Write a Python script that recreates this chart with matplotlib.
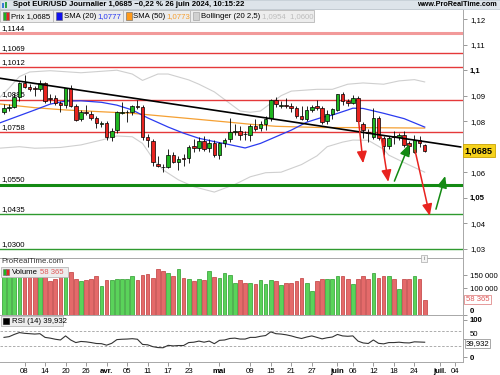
import numpy as np
import pandas as pd
import matplotlib
matplotlib.use("Agg")
import matplotlib.pyplot as plt
from matplotlib.patches import Rectangle
from matplotlib.transforms import blended_transform_factory

plt.rcParams["font.family"] = ["Liberation Sans", "DejaVu Sans"]
FS = 5.6

# ---- colours ----
C_UP = "#1fb51f"
C_DN = "#e8231f"
V_UP = "#5ad35a"
V_UP_EDGE = "#2c9c2c"
V_DN = "#e46a6a"
V_DN_EDGE = "#bf3a3a"
C_SMA20 = "#2b3bf0"
C_SMA50 = "#f5a033"
C_BOLL = "#cfcfcf"
C_LEVEL_RED = "#e5393a"
C_LEVEL_GREEN = "#2f9a2f"

# ---- daily candles, 4 March -> 26 June 2024 ----
dates = pd.bdate_range("2024-03-04", "2024-06-26")
opens = [1.0836, 1.0852, 1.0855, 1.0896, 1.0950, 1.0936, 1.0929, 1.0926, 1.0950, 1.0892,
         1.0890, 1.0870, 1.0862, 1.0930, 1.0861, 1.0809, 1.0835, 1.0827, 1.0811, 1.0790,
         1.0792, 1.0737, 1.0765, 1.0834, 1.0835, 1.0835, 1.0860, 1.0855, 1.0737, 1.0722,
         1.0632, 1.0622, 1.0620, 1.0667, 1.0639, 1.0657, 1.0655, 1.0703, 1.0696, 1.0724,
         1.0696, 1.0715, 1.0667, 1.0713, 1.0729, 1.0757, 1.0763, 1.0750, 1.0746, 1.0781,
         1.0772, 1.0789, 1.0811, 1.0883, 1.0860, 1.0862, 1.0861, 1.0853, 1.0822, 1.0809,
         1.0844, 1.0861, 1.0851, 1.0801, 1.0828, 1.0844, 1.0905, 1.0880, 1.0873, 1.0890,
         1.0788, 1.0759, 1.0739, 1.0814, 1.0735, 1.0703, 1.0740, 1.0737, 1.0746, 1.0713,
         1.0680, 1.0726, 1.0707]
highs = [1.0866, 1.0868, 1.0912, 1.0955, 1.0980, 1.0945, 1.0937, 1.0963, 1.0955, 1.0905,
         1.0902, 1.0880, 1.0928, 1.0942, 1.0868, 1.0842, 1.0865, 1.0840, 1.0822, 1.0800,
         1.0800, 1.0775, 1.0840, 1.0876, 1.0845, 1.0865, 1.0885, 1.0865, 1.0750, 1.0730,
         1.0665, 1.0632, 1.0690, 1.0681, 1.0665, 1.0672, 1.0708, 1.0730, 1.0737, 1.0740,
         1.0730, 1.0725, 1.0720, 1.0735, 1.0812, 1.0790, 1.0780, 1.0760, 1.0790, 1.0810,
         1.0800, 1.0820, 1.0887, 1.0895, 1.0880, 1.0890, 1.0870, 1.0860, 1.0860, 1.0860,
         1.0865, 1.0885, 1.0860, 1.0845, 1.0850, 1.0908, 1.0915, 1.0888, 1.0902, 1.0900,
         1.0795, 1.0770, 1.0852, 1.0820, 1.0740, 1.0740, 1.0760, 1.0752, 1.0760, 1.0722,
         1.0745, 1.0740, 1.0712]
lows = [1.0830, 1.0840, 1.0850, 1.0880, 1.0930, 1.0917, 1.0900, 1.0920, 1.0870, 1.0870,
        1.0862, 1.0836, 1.0850, 1.0855, 1.0802, 1.0800, 1.0825, 1.0805, 1.0775, 1.0778,
        1.0725, 1.0724, 1.0755, 1.0830, 1.0795, 1.0825, 1.0846, 1.0726, 1.0697, 1.0623,
        1.0620, 1.0601, 1.0615, 1.0635, 1.0610, 1.0624, 1.0636, 1.0680, 1.0685, 1.0685,
        1.0680, 1.0660, 1.0650, 1.0700, 1.0718, 1.0745, 1.0725, 1.0725, 1.0723, 1.0760,
        1.0760, 1.0765, 1.0802, 1.0855, 1.0850, 1.0850, 1.0835, 1.0812, 1.0805, 1.0800,
        1.0835, 1.0845, 1.0790, 1.0788, 1.0810, 1.0840, 1.0862, 1.0860, 1.0866, 1.0795,
        1.0733, 1.0718, 1.0732, 1.0728, 1.0668, 1.0690, 1.0710, 1.0725, 1.0700, 1.0671,
        1.0676, 1.0700, 1.0681]
closes = [1.0852, 1.0857, 1.0896, 1.0948, 1.0936, 1.0927, 1.0926, 1.0950, 1.0881, 1.0886,
          1.0873, 1.0862, 1.0930, 1.0861, 1.0806, 1.0835, 1.0832, 1.0811, 1.0792, 1.0791,
          1.0737, 1.0761, 1.0835, 1.0837, 1.0837, 1.0860, 1.0856, 1.0739, 1.0726, 1.0639,
          1.0625, 1.0619, 1.0666, 1.0640, 1.0653, 1.0652, 1.0698, 1.0696, 1.0724, 1.0691,
          1.0713, 1.0667, 1.0714, 1.0726, 1.0759, 1.0763, 1.0746, 1.0749, 1.0781, 1.0769,
          1.0788, 1.0809, 1.0883, 1.0866, 1.0862, 1.0860, 1.0851, 1.0822, 1.0809, 1.0844,
          1.0857, 1.0851, 1.0798, 1.0827, 1.0848, 1.0905, 1.0880, 1.0873, 1.0890, 1.0801,
          1.0766, 1.0753, 1.0814, 1.0735, 1.0703, 1.0735, 1.0739, 1.0746, 1.0707, 1.0703,
          1.0726, 1.0713, 1.0685]
volumes = [150000, 148000, 158000, 165000, 160000, 152000, 150000, 158000, 165000, 128000,
           135000, 150000, 160000, 163000, 135000, 127000, 131000, 137000, 147000, 108000,
           131000, 131000, 135000, 135000, 135000, 146000, 131000, 150000, 154000, 141000,
           173000, 166000, 160000, 147000, 173000, 141000, 135000, 127000, 135000, 131000,
           166000, 144000, 141000, 160000, 150000, 122000, 131000, 122000, 122000, 118000,
           131000, 118000, 131000, 128000, 112000, 122000, 122000, 127000, 141000, 122000,
           92000, 128000, 135000, 137000, 135000, 146000, 146000, 135000, 118000, 137000,
           146000, 135000, 160000, 141000, 146000, 146000, 137000, 99000, 135000, 135000,
           147000, 135000, 58365]
rsi = [53, 55, 61, 66, 64, 63, 62, 63, 53, 51, 48, 46, 57, 46, 39, 42, 41, 39, 36.5, 36,
       32, 37, 47, 48, 48.5, 49.5, 48, 34, 33, 28, 25.5, 25, 31.5, 30, 31, 31, 39, 40, 43, 40,
       43, 36, 45, 46, 50, 51, 48.5, 48.5, 53, 53, 56, 58, 68, 63, 62, 60, 57, 53, 50, 54,
       57, 53, 49, 52, 54, 61, 57, 56, 57, 43, 38, 36.5, 46, 37, 35.5, 39, 39, 40, 38.5, 38,
       41, 40.5, 39.932]

# ---- indicator lines (bar number, value) ----
sma20_bar = [-1, 6, 9, 12, 15, 19, 22, 25, 28, 32, 35, 38, 41, 44, 47, 50, 53, 56, 59, 62,
             64, 67, 68, 70, 74, 78, 82]
sma20 = [1.0792, 1.0844, 1.0867, 1.0879, 1.0880, 1.0874, 1.0863, 1.0844, 1.0813, 1.0777,
         1.0753, 1.0733, 1.0720, 1.0708, 1.0695, 1.0713, 1.0739, 1.0765, 1.0796, 1.0815,
         1.0824, 1.0844, 1.0851, 1.0850, 1.0831, 1.0810, 1.0777]
sma50_bar = [-1, 6, 12, 19, 25, 32, 38, 45, 48, 53, 62, 68, 75, 82]
sma50 = [1.0868, 1.0853, 1.0844, 1.0837, 1.0831, 1.0818, 1.0807, 1.0794, 1.0788, 1.0780,
         1.0775, 1.0775, 1.0774, 1.0773]
boll_up_bar = [-1, 1, 3, 5, 9, 15, 22, 25, 27, 30, 32, 36, 38, 41, 43, 46, 48, 50, 52, 54,
               56, 61, 64, 67, 70, 74, 77, 80, 82]
boll_up = [1.0890, 1.0930, 1.0975, 1.0993, 1.0998, 1.0990, 1.1000, 1.0985, 1.0960, 1.0985,
           1.0985, 1.0962, 1.0945, 1.0915, 1.0885, 1.0840, 1.0835, 1.0840, 1.0870, 1.0900,
           1.0918, 1.0925, 1.0925, 1.0945, 1.0950, 1.0945, 1.0958, 1.0963, 1.0954]
boll_lo_bar = [-1, 3, 6, 11, 15, 19, 22, 25, 27, 29, 31, 34, 37, 41, 45, 48, 51, 54, 58, 61,
               63, 66, 68, 71, 74, 75, 79, 82]
boll_lo = [1.0694, 1.0700, 1.0694, 1.0697, 1.0707, 1.0726, 1.0742, 1.0739, 1.0713, 1.0654,
           1.0609, 1.0570, 1.0543, 1.0522, 1.0552, 1.0582, 1.0598, 1.0600, 1.0630, 1.0664,
           1.0700, 1.0718, 1.0726, 1.0725, 1.0690, 1.0667, 1.0628, 1.0600]

# ---- drawn objects ----
red_levels = [1.1069, 1.1012, 1.0885, 1.0758]
top_level = 1.1144
green_levels = [1.0435, 1.0300]
main_support = 1.0550
trend_bar = [-1, 89]
trend_price = [1.0969, 1.0699]
arrow_from_bar = [69.1, 73.5, 80.1, 76.1, 84.2]
arrow_from_price = [1.0805, 1.0740, 1.0687, 1.0565, 1.0455]
arrow_to_bar = [70.0, 74.9, 83.0, 79.0, 86.0]
arrow_to_price = [1.0635, 1.0562, 1.0429, 1.0710, 1.0585]
arrow_colors = ["#e8231f", "#e8231f", "#e8231f", "#138a13", "#138a13"]

# 1,07 sits behind the last-price box in the original
price_ticks = [1.03, 1.04, 1.05, 1.06, 1.08, 1.09, 1.10, 1.11, 1.12]
price_tick_labels = ["1,03", "1,04", "1,05", "1,06", "1,08", "1,09", "1,1", "1,11", "1,12"]
tick_dates = ["2024-03-08", "2024-03-14", "2024-03-20", "2024-03-26", "2024-04-01",
              "2024-04-05", "2024-04-11", "2024-04-17", "2024-04-23", "2024-05-01",
              "2024-05-09", "2024-05-15", "2024-05-21", "2024-05-27", "2024-06-03",
              "2024-06-06", "2024-06-12", "2024-06-18", "2024-06-24", "2024-07-01",
              "2024-07-04"]
tick_labels = ["08", "14", "20", "26", "avr.", "05", "11", "17", "23", "mai", "09", "15",
               "21", "27", "juin", "06", "12", "18", "24", "juil.", "04"]


def fmt(v):
    return f"{v:.4f}".replace(".", ",")


# ================================
# figure and panels (pixel layout of the original 500x375 screen)
# ================================
W, H = 500, 375
fig = plt.figure(figsize=(5, 3.75), dpi=100, facecolor="white")


def fx(x):
    return x / W


def fy(y):
    return 1 - y / H


ax = fig.add_axes([0, fy(258), fx(463), (258 - 9) / H])
axv = fig.add_axes([0, fy(315), fx(463), (315 - 258) / H], sharex=ax)
axr = fig.add_axes([0, fy(362), fx(463), (362 - 315) / H], sharex=ax)

for a in (ax, axv, axr):
    a.spines["left"].set_visible(False)
    for s in ("top", "bottom", "right"):
        a.spines[s].set_color("#a8a8a8")
        a.spines[s].set_linewidth(0.7)
    a.yaxis.tick_right()
    a.tick_params(axis="y", length=3, width=0.6, color="#888888", labelsize=FS, pad=2)

pos = np.arange(len(dates))
o, h, l, c = map(np.array, (opens, highs, lows, closes))
up = c >= o

# -------- price panel --------
ax.plot(boll_up_bar, boll_up, color=C_BOLL, lw=0.8, zorder=1)
ax.plot(boll_lo_bar, boll_lo, color=C_BOLL, lw=0.8, zorder=1)

ytr = blended_transform_factory(ax.transAxes, ax.transData)
for lv in red_levels:
    ax.axhline(lv, color=C_LEVEL_RED, lw=1.0, zorder=1)
    ax.text(0.004, lv + 0.0004, fmt(lv), transform=ytr, fontsize=FS, va="bottom", zorder=1)
ax.axhline(top_level, color="#f29a9a", lw=2.2, zorder=1)
ax.text(0.004, top_level + 0.0006, fmt(top_level), transform=ytr, fontsize=FS, va="bottom")
for lv in green_levels:
    ax.axhline(lv, color=C_LEVEL_GREEN, lw=1.0, zorder=1)
    ax.text(0.004, lv + 0.0004, fmt(lv), transform=ytr, fontsize=FS, va="bottom")
ax.axhline(main_support, color="#138a13", lw=2.2, zorder=1)
ax.text(0.004, main_support + 0.0007, fmt(main_support), transform=ytr, fontsize=FS, va="bottom")

ax.plot(sma50_bar, sma50, color=C_SMA50, lw=0.9, zorder=2)
ax.plot(sma20_bar, sma20, color=C_SMA20, lw=0.9, zorder=2)

ax.vlines(pos, l, h, color="black", lw=0.6, zorder=3)
body = np.maximum(np.abs(c - o), 0.00008)
ax.bar(pos, body, bottom=np.minimum(o, c), width=0.7,
       color=np.where(up, C_UP, C_DN), edgecolor="black", linewidth=0.5, zorder=4)

ax.plot(trend_bar, trend_price, color="black", lw=1.2, zorder=5)

for fb, fp, tb, tp, col in zip(arrow_from_bar, arrow_from_price, arrow_to_bar,
                               arrow_to_price, arrow_colors):
    ax.annotate("", xy=(tb, tp), xytext=(fb, fp), zorder=6,
                arrowprops=dict(arrowstyle="-|>,head_length=0.7,head_width=0.3",
                                color=col, lw=1.1, shrinkA=0, shrinkB=0,
                                mutation_scale=10))

ax.set_xlim(-0.78, 89.47)
ax.set_ylim(1.02635, 1.1240)
ax.set_yticks(price_ticks)
ax.set_yticklabels(price_tick_labels)
for t in ax.get_yticklabels():
    if t.get_text() in ("1,1", "1,05"):
        t.set_fontweight("bold")
ax.tick_params(axis="x", bottom=False, labelbottom=False)
ax.text(1.004, closes[-1], fmt(closes[-1]), transform=ytr, fontsize=6.6, fontweight="bold",
        va="center", ha="left", clip_on=False, zorder=10,
        bbox=dict(boxstyle="square,pad=0.18", fc="#f6d21c", ec="#c9a200", lw=0.6))

# -------- volume panel --------
axv.bar(pos, volumes, width=0.72, color=np.where(up, V_UP, V_DN),
        edgecolor=np.where(up, V_UP_EDGE, V_DN_EDGE), linewidth=0.5, zorder=2)
axv.set_ylim(0, 215000)
axv.set_yticks([0, 100000, 150000])
axv.set_yticklabels(["0", "100 000", "150 000"])
vlabs = axv.get_yticklabels()
vlabs[0].set_fontweight("bold")
vlabs[0].set_verticalalignment("bottom")
axv.tick_params(axis="x", bottom=False, labelbottom=False)
vtr = blended_transform_factory(axv.transAxes, axv.transData)
axv.text(1.006, volumes[-1], "58 365", transform=vtr, fontsize=FS, color="#e05a5a",
         va="center", ha="left", clip_on=False, zorder=10,
         bbox=dict(boxstyle="square,pad=0.18", fc="white", ec="#e08a8a", lw=0.6))
axv.text(0.004, 0.93, "ProRealTime.com", transform=axv.transAxes, fontsize=FS,
         color="#333333", va="center", zorder=5)

# -------- RSI panel --------
axr.axhline(70, color="#a0a0a0", lw=0.6, ls=(0, (3, 2)))
axr.axhline(30, color="#a0a0a0", lw=0.6, ls=(0, (3, 2)))
axr.plot(pos, rsi, color="#333333", lw=0.8)
axr.set_ylim(-13.5, 113.5)
axr.set_yticks([0, 50, 100])
axr.set_yticklabels(["0", "50", "100"])
rlabs = axr.get_yticklabels()
rlabs[0].set_fontweight("bold")
rlabs[2].set_fontweight("bold")
rlabs[1].set_verticalalignment("bottom")
rtr = blended_transform_factory(axr.transAxes, axr.transData)
axr.text(1.006, rsi[-1] - 3, "39,932", transform=rtr, fontsize=FS, va="center", ha="left",
         clip_on=False, zorder=10,
         bbox=dict(boxstyle="square,pad=0.12", fc="white", ec="#999999", lw=0.6))

axis_days = pd.bdate_range("2024-03-04", "2024-07-12")
tick_pos = axis_days.get_indexer(pd.to_datetime(tick_dates))
axr.set_xticks(tick_pos)
axr.set_xticklabels(tick_labels)
axr.tick_params(axis="x", length=3, width=0.6, color="#888888", labelsize=FS, pad=1.5)
for t in axr.get_xticklabels():
    if not t.get_text().isdigit():
        t.set_fontweight("bold")

# ================================
# header bar and legend boxes
# ================================
def box(x0, y0, x1, y1, fc, ec, lw=0.6):
    fig.add_artist(Rectangle((fx(x0), fy(y1)), fx(x1 - x0), (y1 - y0) / H,
                             transform=fig.transFigure, fc=fc, ec=ec, lw=lw, zorder=20))


def label(x, y, s, **kw):
    kw.setdefault("fontsize", FS)
    fig.text(fx(x), fy(y), s, va="center", zorder=21, **kw)


box(0, 0, 500, 9, "#dde4ea", "#c3ccd4")
box(2, 3, 4, 8, "#3a7bd5", "none", 0)
box(5, 1.5, 7, 8, "#2ea64a", "none", 0)
label(13, 4.6, "Spot EUR/USD Journalier 1,0685 \u22120,22 % 26 juin 2024, 10:15:22",
      fontweight="bold")
label(497, 4.6, "www.ProRealTime.com", fontweight="bold", ha="right", fontsize=5.2)

# legend row
box(0, 10, 53, 22, "#ededed", "#b8b8b8")
box(2.5, 12.5, 5.5, 19.5, C_UP, "#666666", 0.4)
box(5.5, 12.5, 8.5, 19.5, C_DN, "#666666", 0.4)
label(11, 16.2, "Prix 1,0685")
box(53, 10, 123, 22, "#ededed", "#b8b8b8")
box(55.5, 12.5, 61.5, 19.5, "#1010ee", "#666666", 0.4)
label(64, 16.2, "SMA (20)")
label(97, 16.2, "1,0777", color=C_SMA20)
box(123, 10, 190, 22, "#ededed", "#b8b8b8")
box(125.5, 12.5, 131.5, 19.5, "#ff9a1a", "#666666", 0.4)
label(133, 16.2, "SMA (50)")
label(166, 16.2, "1,0773", color=C_SMA50)
box(190, 10, 314, 22, "#ededed", "#b8b8b8")
box(193, 12.5, 199, 19.5, "#d0d0d0", "#999999", 0.4)
label(201, 16.2, "Bollinger (20 2,5)")
label(262, 16.2, "1,0954  1,0600", color="#bdbdbd")

# volume and RSI legends
box(1, 267, 68, 277, "#ededed", "#b8b8b8")
box(3, 269, 6, 275, C_UP, "#666666", 0.4)
box(6, 269, 9, 275, C_DN, "#666666", 0.4)
label(12, 272.2, "Volume")
label(40, 272.2, "58 365", color="#e05a5a")
box(1, 316, 63, 326, "#ededed", "#b8b8b8")
box(3, 318, 9, 324, "black", "black", 0.4)
label(12, 321.2, "RSI (14) 39,932")

# small info marker
box(421, 255, 427, 262, "#f4f4f4", "#aaaaaa", 0.5)
label(424, 258.7, "i", fontsize=4.5, ha="center", color="#777777")

fig.savefig("out.png", dpi=100, facecolor="white")
